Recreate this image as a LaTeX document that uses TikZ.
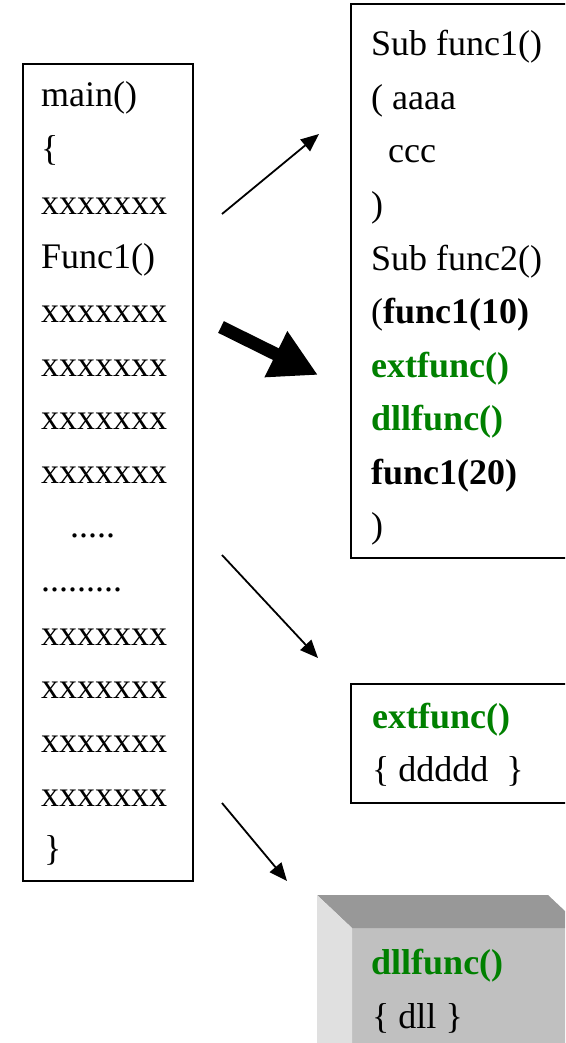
\documentclass[tikz,border=0pt]{standalone}
\usepackage{fontspec}
\setmainfont{Liberation Serif}
\usetikzlibrary{arrows.meta}
\definecolor{codegreen}{RGB}{0,128,0}
\definecolor{facetop}{RGB}{152,152,152}
\definecolor{facefront}{RGB}{192,192,192}
\definecolor{faceside}{RGB}{224,224,224}
\begin{document}
\begin{tikzpicture}[x=1pt,y=-1pt,
  frame/.style={draw=black, line width=1.8pt, inner sep=0pt, anchor=north west},
  txt/.style={anchor=base west, inner sep=0pt, font=\fontsize{36}{40}\selectfont},
  kw/.style={txt, font=\fontsize{36}{40}\selectfont\bfseries},
  gkw/.style={kw, text=codegreen},
  thinarrow/.style={line width=1.8pt, -{Triangle[length=18pt,width=15pt]}},
  bigarrow/.style={line width=13pt, -{Triangle[length=47pt,width=48pt]}}]
\useasboundingbox (0,0) rectangle (565,1043);
\clip (0,0) rectangle (565,1043);

% caller listing
\node[frame, minimum width=170pt, minimum height=817pt] (main) at (22,63) {};
\node[txt] (m0)  at (41,107)   {main()};
\node[txt] (m1)  at (41,160.8) {\{};
\node[txt] (m2)  at (41,214.6) {xxxxxxx};
\node[txt] (m3)  at (41,268.4) {Func1()};
\node[txt] (m4)  at (41,322.2) {xxxxxxx};
\node[txt] (m5)  at (41,376)   {xxxxxxx};
\node[txt] (m6)  at (41,429.8) {xxxxxxx};
\node[txt] (m7)  at (41,483.6) {xxxxxxx};
\node[txt] (m8)  at (70,537.4) {.....};
\node[txt] (m9)  at (41,591.2) {.........};
\node[txt] (m10) at (41,645)   {xxxxxxx};
\node[txt] (m11) at (41,698.8) {xxxxxxx};
\node[txt] (m12) at (41,752.6) {xxxxxxx};
\node[txt] (m13) at (41,806.4) {xxxxxxx};
\node[txt] (m14) at (44,860.2) {\}};

% subroutine listing
\node[frame, minimum width=260pt, minimum height=554pt] (subs) at (350,3) {};
\node[txt] (s0) at (371,56)    {Sub func1()};
\node[txt] (s1) at (371,109.5) {( aaaa};
\node[txt] (s2) at (388,163)   {ccc};
\node[txt] (s3) at (371,216.5) {)};
\node[txt] (s4) at (371,270)   {Sub func2()};
\node[txt] (s5) at (371,323.5) {(\textbf{func1(10)}};
\node[gkw] (s6) at (371,377)   {extfunc()};
\node[gkw] (s7) at (371,430.5) {dllfunc()};
\node[kw]  (s8) at (371,484)   {func1(20)};
\node[txt] (s9) at (371,537.5) {)};

% external function
\node[frame, minimum width=260pt, minimum height=119pt] (ext) at (350,683) {};
\node[gkw] (e0) at (372,728) {extfunc()};
\node[txt] (e1) at (372,781) {\{ ddddd \ \}};

% DLL block drawn as a box
\node[fill=facefront, inner sep=0pt, anchor=north west,
      minimum width=260pt, minimum height=140pt] (dll) at (352,928) {};
\fill[facetop] (dll.north west) -- ++(-35,-33) -- ++(231,0)
  -- ++(35,33) -- (dll.north east) -- cycle;
\fill[faceside] (dll.north west) -- ++(-35,-33) -- ++(0,180)
  -- ++(35,33) -- cycle;
\node[gkw] (d0) at (371,974)  {dllfunc()};
\node[txt] (d1) at (372,1028) {\{ dll \}};

% call arrows
\coordinate (a1s) at (222,214); \coordinate (a1e) at (319,134);
\coordinate (a2s) at (221,327); \coordinate (a2e) at (318,375);
\coordinate (a3s) at (222,555); \coordinate (a3e) at (318,658);
\coordinate (a4s) at (222,803); \coordinate (a4e) at (287,881);
\draw[thinarrow] (a1s) -- (a1e);
\draw[bigarrow]  (a2s) -- (a2e);
\draw[thinarrow] (a3s) -- (a3e);
\draw[thinarrow] (a4s) -- (a4e);
\end{tikzpicture}
\end{document}
